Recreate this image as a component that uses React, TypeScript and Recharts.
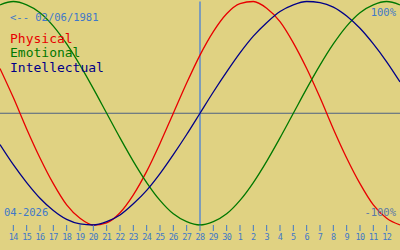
import { LineChart, Line, XAxis, YAxis, ReferenceLine } from "recharts";

// days counted from 1 April 2026 (31 = 1 May)
const days = [
  13, 14, 15, 16, 17, 18, 19, 20, 21, 22, 23, 24, 25, 26, 27, 28, 29, 30, 31,
  32, 33, 34, 35, 36, 37, 38, 39, 40, 41, 42, 43,
];

const physical = [
  0.4, 0.14, -0.14, -0.4, -0.63, -0.82, -0.94, -1.0, -0.98, -0.89, -0.73,
  -0.52, -0.27, 0, 0.27, 0.52, 0.73, 0.89, 0.98, 1.0, 0.94, 0.82, 0.63, 0.4,
  0.14, -0.14, -0.4, -0.63, -0.82, -0.94, -1.0,
];

const emotional = [
  0.97, 1.0, 0.97, 0.9, 0.78, 0.62, 0.43, 0.22, 0, -0.22, -0.43, -0.62, -0.78,
  -0.9, -0.97, -1.0, -0.97, -0.9, -0.78, -0.62, -0.43, -0.22, 0, 0.22, 0.43,
  0.62, 0.78, 0.9, 0.97, 1.0, 0.97,
];

const intellectual = [
  -0.28, -0.46, -0.62, -0.76, -0.87, -0.95, -0.99, -1.0, -0.97, -0.91, -0.81,
  -0.69, -0.54, -0.37, -0.19, 0, 0.19, 0.37, 0.54, 0.69, 0.81, 0.91, 0.97,
  1.0, 0.99, 0.95, 0.87, 0.76, 0.62, 0.46, 0.28,
];

const tickDays = [
  14, 15, 16, 17, 18, 19, 20, 21, 22, 23, 24, 25, 26, 27, 28, 29, 30, 31, 32,
  33, 34, 35, 36, 37, 38, 39, 40, 41, 42,
];
const tickLabels = [
  "14", "15", "16", "17", "18", "19", "20", "21", "22", "23", "24", "25",
  "26", "27", "28", "29", "30", "1", "2", "3", "4", "5", "6", "7", "8", "9",
  "10", "11", "12",
];

const TODAY = 28;

const BG = "#e0d282";
const TEXT_BLUE = "#3f78c8";
const MONO = "'DejaVu Sans Mono', monospace";

const data = days.map((day, i) => ({
  day,
  physical: physical[i],
  emotional: emotional[i],
  intellectual: intellectual[i],
}));

function DayTick({ x, y, payload }: any) {
  const idx = tickDays.indexOf(payload.value);
  return (
    <text
      x={x}
      y={y + 7}
      textAnchor="middle"
      fontSize={8.5}
      fontFamily={MONO}
      letterSpacing={-0.6}
      fill={TEXT_BLUE}
    >
      {idx >= 0 ? tickLabels[idx] : ""}
    </text>
  );
}

export default function App() {
  return (
    <div
      style={{
        position: "absolute",
        left: 0,
        top: 0,
        width: 400,
        height: 250,
        background: BG,
      }}
    >
      <LineChart
        width={400}
        height={250}
        data={data}
        margin={{ top: 1.5, right: 0, bottom: 0, left: 0 }}
      >
        <XAxis
          dataKey="day"
          type="number"
          domain={[13, 43]}
          ticks={tickDays}
          axisLine={false}
          tickLine={{ stroke: TEXT_BLUE }}
          tickSize={6}
          tick={<DayTick />}
          interval={0}
          height={25}
        />
        <YAxis hide domain={[-1, 1]} />
        <ReferenceLine y={0} stroke="#4e6282" />
        <ReferenceLine x={TODAY} stroke="#3a78e0" strokeWidth={1.2} />
        <Line
          type="monotone"
          dataKey="physical"
          stroke="#e80000"
          dot={false}
          strokeWidth={1.3}
          isAnimationActive={false}
        />
        <Line
          type="monotone"
          dataKey="emotional"
          stroke="#007800"
          dot={false}
          strokeWidth={1.3}
          isAnimationActive={false}
        />
        <Line
          type="monotone"
          dataKey="intellectual"
          stroke="#000088"
          dot={false}
          strokeWidth={1.3}
          isAnimationActive={false}
        />
      </LineChart>
      <svg
        width={400}
        height={250}
        style={{ position: "absolute", left: 0, top: 0, pointerEvents: "none" }}
        fontFamily={MONO}
      >
        <text x={10} y={21} fontSize={10.5} fill={TEXT_BLUE}>
          {"<-- 02/06/1981"}
        </text>
        <text x={10} y={43} fontSize={13} fill="#e80000">
          Physical
        </text>
        <text x={10} y={57} fontSize={13} fill="#007800">
          Emotional
        </text>
        <text x={10} y={72} fontSize={13} fill="#000088">
          Intellectual
        </text>
        <text x={396} y={16} fontSize={10.5} textAnchor="end" fill={TEXT_BLUE}>
          100%
        </text>
        <text x={396} y={216} fontSize={10.5} textAnchor="end" fill="#5a78a8">
          -100%
        </text>
        <text x={4} y={216} fontSize={10.5} fill={TEXT_BLUE}>
          04-2026
        </text>
      </svg>
    </div>
  );
}
